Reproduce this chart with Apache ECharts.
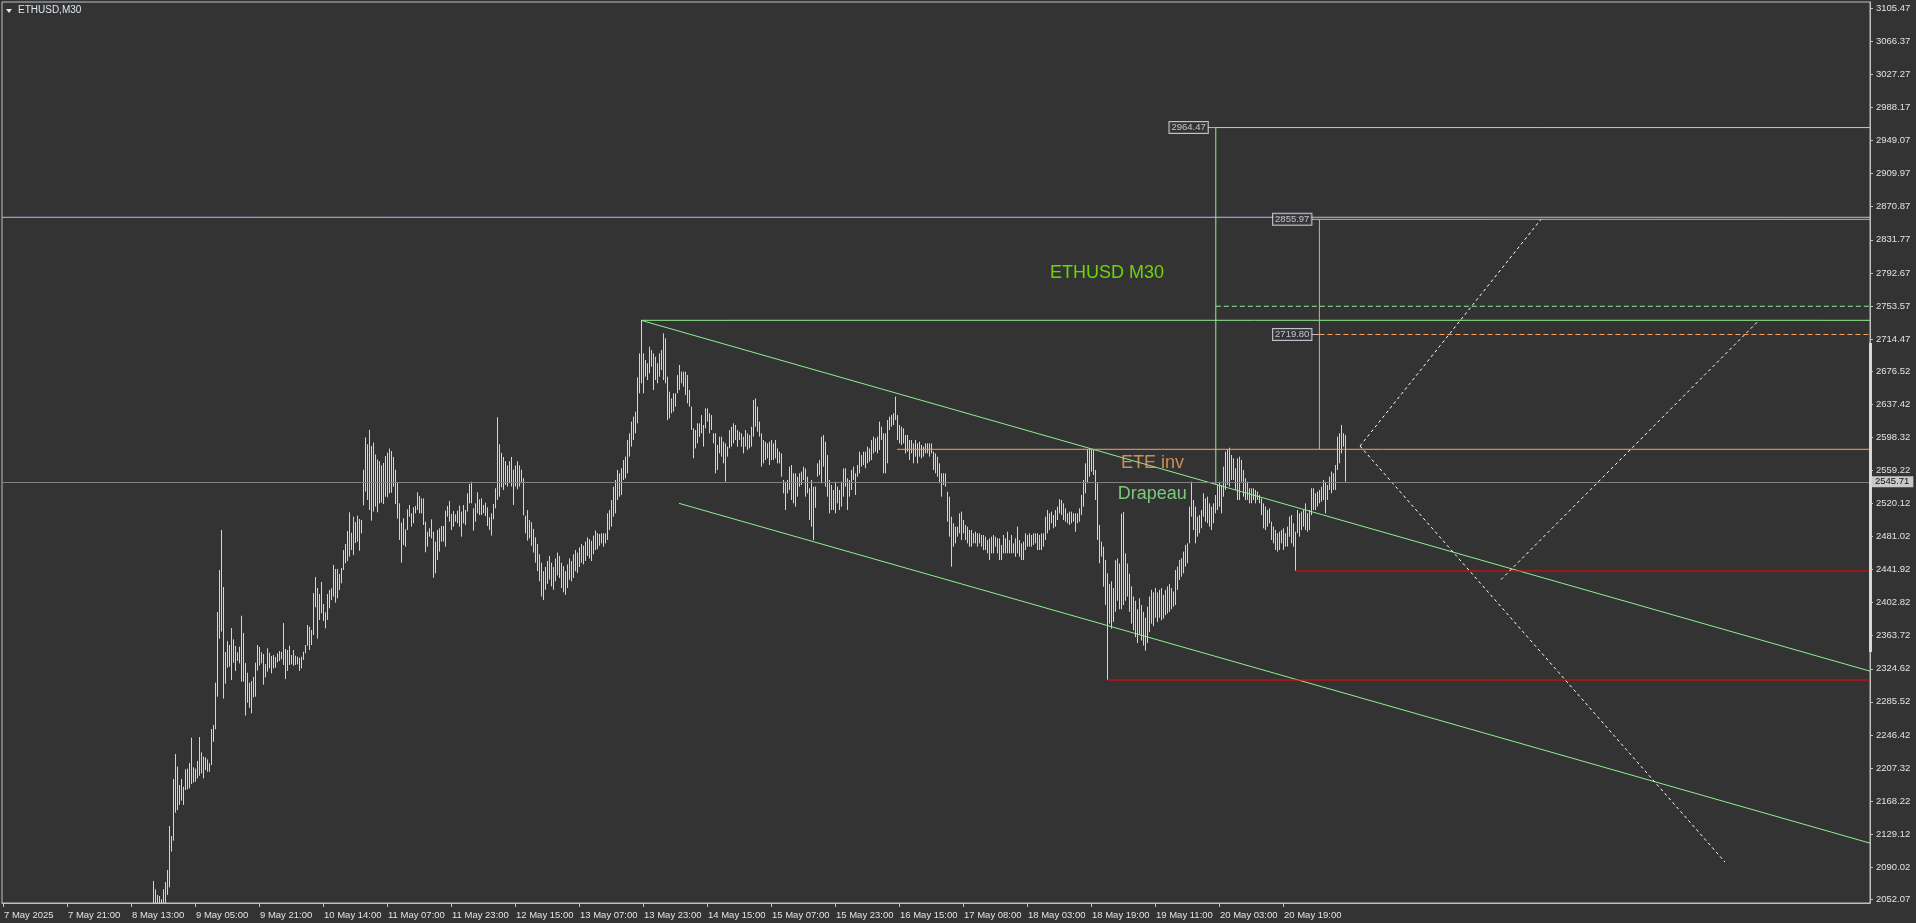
<!DOCTYPE html>
<html>
<head>
<meta charset="utf-8">
<script src="https://cdn.jsdelivr.net/npm/echarts@6/dist/echarts.min.js"></script>
<style>
html,body{margin:0;padding:0;background:#333333;overflow:hidden;}
#chart{width:1916px;height:923px;}
</style>
</head>
<body>
<div id="chart"></div>
<script>
// ---------- DATA ----------
const symbolTitle = 'ETHUSD,M30';
const firstBar = 75;            // index of first visible M30 bar
const barsPerLabel = 32;        // one time label every 32 bars
const timeLabels = ['7 May 2025','7 May 21:00','8 May 13:00','9 May 05:00','9 May 21:00','10 May 14:00','11 May 07:00','11 May 23:00','12 May 15:00','13 May 07:00','13 May 23:00','14 May 15:00','15 May 07:00','15 May 23:00','16 May 15:00','17 May 08:00','18 May 03:00','18 May 19:00','19 May 11:00','20 May 03:00','20 May 19:00'];
const priceTicks = [3105.47,3066.37,3027.27,2988.17,2949.07,2909.97,2870.87,2831.77,2792.67,2753.57,2714.47,2676.52,2637.42,2598.32,2559.22,2520.12,2481.02,2441.92,2402.82,2363.72,2324.62,2285.52,2246.42,2207.32,2168.22,2129.12,2090.02,2052.07];
const bidPrice = 2545.71;

const barHigh = [
2073.7,2063.8,2057.2,2056.0,2052.0,2063.8,2072.5,2086.7,2138.7,2126.9,
2194.3,2223.8,2208.9,2187.2,2194.3,2185.2,2205.7,2206.5,2213.2,2243.2,
2208.1,2206.5,2215.6,2243.9,2225.8,2220.7,2219.9,2217.5,2212.8,2253.4,
2258.1,2308.2,2391.7,2441.4,2488.7,2421.3,2344.4,2357.4,2352.7,2372.8,
2359.4,2351.5,2344.1,2350.7,2387.4,2366.9,2331.4,2320.0,2308.2,2310.2,
2314.9,2331.8,2352.7,2350.4,2344.1,2342.1,2330.3,2348.8,2343.7,2339.7,
2340.9,2338.5,2342.9,2345.6,2344.4,2378.7,2348.0,2346.8,2351.9,2340.9,
2346.8,2340.1,2338.9,2337.7,2338.9,2344.8,2352.7,2376.4,2374.4,2370.5,
2414.2,2433.1,2420.1,2413.0,2427.2,2401.2,2391.3,2413.0,2417.7,2419.7,
2447.3,2442.6,2442.6,2436.7,2443.8,2465.0,2472.1,2487.5,2509.6,2485.5,
2504.4,2498.1,2505.6,2501.7,2500.5,2560,2598,2590,2607,2588,
2592,2578,2572,2570,2565,2568,2576,2580,2585,2582,
2575,2560,2545,2520.2,2497.4,2502.5,2489.5,2513.1,2518.2,2508.4,
2515.5,2517.1,2533.2,2528.9,2526.1,2526.1,2498.5,2486.7,2490.7,2501.3,
2486.7,2474.9,2488.7,2490.7,2493.4,2493.4,2511.5,2517.1,2523.0,2507.6,
2511.1,2507.2,2511.5,2517.5,2510.4,2518.2,2512.3,2532.0,2543.1,2545.8,
2514.3,2520.2,2533.2,2524.9,2526.1,2518.2,2521.0,2515.5,2503.7,2508.4,
2519.4,2538.0,2622,2590,2580,2575,2570,2565,2570,2575,
2560,2565,2570,2565,2560,2550,2505.6,2512.3,2500.5,2498,
2490,2480,2472,2460,2450,2440,2445,2452,2458,2450,
2445,2455,2462,2458,2450,2446,2440,2448,2455,2452,
2460,2465,2462,2468,2472,2470,2475,2480,2478,2476,
2482,2488,2485,2484,2484.7,2484.7,2484.7,2508.4,2512.3,2524.1,
2539.9,2547.8,2559.6,2555.7,2561.6,2571.4,2575.4,2595.1,2603.0,2616.8,
2622.7,2628.6,2669.2,2697.5,2736.2,2697.5,2689.7,2685.7,2705.4,2701.5,
2697.5,2693.6,2685.7,2697.5,2701.5,2721.2,2715.3,2670.0,2652.2,2644.3,
2650.3,2650.3,2671.9,2683.8,2675.9,2675.9,2675.9,2671.9,2654.2,2634.5,
2608.9,2606.9,2614.8,2614.8,2624.6,2612.8,2632.5,2632.5,2626.6,2624.6,
2603.0,2603.0,2589.2,2599.0,2599.0,2593.1,2591.1,2587.2,2606.9,2610.8,
2614.8,2612.8,2606.9,2604.9,2603.0,2599.0,2606.9,2603.0,2601.0,2610.8,
2642.4,2644.3,2634.5,2616.8,2603.0,2595.1,2593.1,2591.1,2593.1,2595.1,
2591.1,2595.1,2585.2,2581.3,2579.3,2547.8,2545.8,2547.8,2563.6,2565.5,
2555.7,2555.7,2551.7,2555.7,2557.6,2563.6,2561.6,2551.7,2537.9,2547.8,
2539.9,2540,2567.5,2571.4,2599.0,2601.0,2593.1,2577.3,2547.8,2541.9,
2536.0,2545.8,2539.9,2536.0,2545.8,2561.6,2561.6,2549.8,2547.8,2559.6,
2563.6,2555.7,2565.5,2581.3,2577.3,2581.3,2581.3,2587.2,2585.2,2595.1,
2599.0,2597.0,2599.0,2616.8,2610.8,2603.0,2603.0,2618.7,2622.7,2624.6,
2626.6,2646.3,2624.6,2612.8,2610.8,2608.9,2601.0,2601.0,2595.1,2595.1,
2591.1,2595.1,2591.1,2593.1,2589.2,2587.2,2591.1,2591.1,2591.1,2591.1,
2581.3,2579.3,2575.4,2567.5,2555.7,2555.7,2555.7,2534.0,2528.1,2504.4,
2496.6,2492.6,2492.6,2508.4,2510.4,2500.5,2494.6,2492.6,2488.7,2488.7,
2484.7,2486.7,2484.7,2484.7,2482.8,2482.8,2480.8,2476.8,2478.8,2480.8,
2482.8,2480.8,2478.8,2478.8,2470.9,2482.8,2478.8,2486.7,2476.8,2482.8,
2472.9,2478.8,2492.6,2476.8,2472.9,2474.9,2484.7,2482.8,2484.7,2482.8,
2484.7,2484.7,2484.7,2482.8,2484.7,2484.7,2504.4,2512.3,2508.4,2510.4,
2506.4,2512.3,2516.3,2525.0,2524.2,2520.2,2514.3,2508.4,2510.4,2510.4,
2508.4,2508.4,2508.4,2514.3,2530.1,2547.8,2567.5,2583.3,2585.3,2583.3,
2583.3,2559.6,2543.9,2494.6,2474.9,2469.0,2453.2,2437.5,2425,2428,
2420,2453,2455,2449,2508,2510,2461,2449,2437,2422,
2410,2405,2395,2408,2400,2392,2385,2398,2410,2418,
2415,2420,2415,2418,2420,2412,2418,2422,2425,2420,
2416,2441.4,2445.4,2453.2,2455.2,2463.1,2471.0,2472.9,2516.3,2545.8,
2524.2,2516.3,2504.5,2506.4,2512.3,2532.1,2526.1,2528.1,2520.2,2516.3,
2520.2,2530.1,2541.9,2545.8,2541.9,2563.6,2581.3,2583.3,2586.0,2577.4,
2573.4,2561.6,2573.4,2575.4,2571.5,2559.6,2549.8,2545.8,2538.0,2538.0,
2538.0,2536.0,2534.0,2530.1,2526.1,2520.2,2516.3,2512.3,2514.3,2498.5,
2492.6,2488.7,2484.8,2486.7,2488.7,2490.7,2484.8,2492.6,2504.5,2506.4,
2496.6,2486.7,2512.3,2508.4,2510.4,2512.3,2520.2,2508.4,2512.3,2538.0,
2538.0,2532.1,2534.0,2536.0,2539.9,2547.8,2545.8,2541.9,2551.8,2557.7,
2555.7,2565.6,2599.0,2603.0,2612.8,2603.0,2601.0
];

const barLow = [
2035,2035,2035,2035,2035,2035,2035,2057.2,2066.2,2108.4,
2121.4,2154.5,2157.6,2163.6,2168.7,2163.6,2181.3,2182.1,2183.3,2188.4,
2190.0,2191.1,2195.1,2198.2,2201.0,2195.1,2204.9,2202.9,2202.9,2210.8,
2238.4,2253.0,2291.6,2360.2,2368.5,2289.3,2307.0,2325.9,2327.1,2311.3,
2331.8,2322.0,2333.8,2331.0,2309.4,2309.4,2269.2,2284.5,2278.6,2271.9,
2290.8,2291.6,2322.4,2328.3,2331.0,2305.8,2314.5,2321.2,2325.1,2319.2,
2325.1,2325.9,2332.2,2333.8,2335.8,2329.1,2312.5,2322.0,2329.1,2329.9,
2328.3,2329.1,2329.9,2322.0,2325.1,2335.0,2342.9,2351.9,2346.8,2352.7,
2364.5,2397.3,2360.2,2382.3,2390.2,2381.1,2372.4,2382.3,2396.1,2405.9,
2409.9,2402.8,2407.9,2417.7,2425.6,2441.4,2449.3,2452.0,2457.2,2465.0,
2459.1,2473.3,2474.9,2464.2,2484.7,2517.8,2534.0,2524.2,2512.3,2499.7,
2510.4,2516.3,2509.6,2520.2,2521.0,2519.4,2528.1,2527.3,2532.0,2532.8,
2539.9,2519.4,2502.1,2476.9,2450.1,2471.0,2469.0,2488.7,2504.4,2492.6,
2496.6,2508.4,2512.3,2508.4,2508.4,2494.6,2462.3,2469.0,2480.8,2478.8,
2432.3,2437.4,2453.2,2463.1,2474.9,2474.9,2469.0,2504.4,2498.5,2488.7,
2492.6,2498.5,2496.6,2492.6,2480.8,2496.6,2494.6,2510.4,2520.2,2520.2,
2487.9,2498.5,2508.4,2506.4,2506.4,2508.4,2505.2,2493.4,2488.7,2482.0,
2501.3,2514.3,2524.2,2528.1,2539.1,2536,2542,2540,2544,2540,
2518.2,2540,2536.8,2540,2544,2506.0,2484.7,2476.1,2478.8,2470,
2462,2450,2440,2428,2410,2406,2418,2425,2430,2422,
2418,2428,2435,2432,2420,2415,2412,2420,2430,2428,
2432,2440,2438,2445,2450,2448,2452,2458,2455,2452,
2460,2465,2466,2470,2472.9,2469.0,2472.9,2476.9,2488.7,2492.6,
2504.4,2508.4,2524.1,2528.1,2530.1,2547.8,2549.8,2555.7,2575.4,2587.2,
2595.1,2603.0,2614.8,2650.3,2662.1,2650.3,2670.0,2666.0,2673.9,2681.8,
2654.2,2666.0,2662.1,2670.0,2677.8,2666.0,2662.1,2618.7,2620.7,2626.6,
2628.6,2634.5,2650.3,2654.2,2662.1,2658.1,2648.3,2638.4,2634.5,2606.9,
2573.4,2585.2,2591.1,2599.0,2603.0,2587.2,2608.9,2616.8,2603.0,2606.9,
2591.1,2555.7,2559.6,2579.3,2575.4,2567.5,2545.8,2575.4,2585.2,2587.2,
2591.1,2595.1,2587.2,2595.1,2587.2,2579.3,2587.2,2583.3,2585.2,2587.2,
2599.0,2610.8,2604.9,2599.0,2563.6,2567.5,2571.4,2573.4,2565.5,2571.4,
2571.4,2573.4,2567.5,2567.5,2551.7,2532.0,2512.3,2532.0,2536.0,2524.1,
2520.2,2516.3,2528.1,2539.9,2541.9,2547.8,2528.1,2532.0,2500.5,2492.6,
2476.8,2515,2551.7,2553.7,2543.9,2563.6,2539.9,2528.1,2508.4,2512.3,
2512.3,2508.4,2520.2,2512.3,2516.3,2528.1,2539.9,2512.3,2528.1,2536.0,
2547.8,2530.1,2551.7,2555.7,2563.6,2565.5,2561.6,2567.5,2569.5,2571.4,
2579.3,2581.3,2579.3,2583.3,2595.1,2555.7,2555.7,2567.5,2606.9,2610.8,
2612.8,2618.7,2595.1,2591.1,2589.2,2591.1,2579.3,2581.3,2571.4,2579.3,
2567.5,2575.4,2567.5,2575.4,2573.4,2575.4,2579.3,2579.3,2575.4,2579.3,
2559.6,2555.7,2551.7,2543.9,2528.1,2541.9,2539.9,2498.5,2480.8,2445.3,
2469.0,2472.9,2480.8,2484.7,2476.8,2484.7,2476.8,2472.9,2469.0,2469.0,
2472.9,2472.9,2469.0,2472.9,2469.0,2465.0,2465.0,2461.1,2453.2,2461.1,
2461.1,2469.0,2461.1,2453.2,2453.2,2461.1,2461.1,2461.1,2461.1,2461.1,
2461.1,2457.1,2461.1,2457.1,2453.2,2453.2,2465.0,2469.0,2469.0,2469.0,
2471.0,2472.9,2465.0,2465.0,2465.0,2469.0,2476.8,2484.7,2488.7,2496.6,
2490.7,2492.6,2500.5,2508.4,2506.4,2500.5,2498.5,2496.6,2494.6,2496.6,
2498.5,2486.7,2496.6,2498.5,2506.4,2516.3,2532.1,2543.9,2551.8,2557.7,
2553.7,2524.2,2476.9,2449.3,2457.2,2421.7,2400,2311.3,2378,2372,
2380,2392,2405,2395,2395,2400,2405,2410,2392,2378,
2370,2362,2355,2365,2358,2352,2346,2355,2368,2378,
2375,2385,2380,2385,2382,2384,2388,2390,2392,2395,
2398,2400,2417.8,2429.6,2433.5,2437.5,2445.4,2449.3,2472.9,2504.5,
2488.7,2472.9,2480.8,2484.8,2490.7,2504.5,2498.5,2496.6,2492.6,2488.7,
2496.6,2508.4,2512.3,2516.3,2508.4,2528.1,2536.0,2541.9,2539.9,2547.8,
2547.8,2536.0,2524.2,2524.2,2545.8,2528.1,2524.2,2524.2,2520.2,2520.2,
2524.2,2520.2,2524.2,2520.2,2506.4,2490.7,2488.7,2492.6,2496.6,2476.9,
2472.9,2465.1,2463.1,2465.1,2472.9,2465.1,2469.0,2469.0,2480.8,2472.9,
2469.0,2440.2,2484.8,2480.8,2488.7,2492.6,2488.7,2486.7,2488.7,2506.4,
2512.3,2512.3,2516.3,2520.2,2522.2,2524.2,2508.4,2524.2,2536.0,2532.1,
2536.0,2536.0,2559.6,2567.5,2579.3,2587.2,2545.8
];

// ---------- ANNOTATIONS (bar index, price) ----------
const channelUpper = [[319, 2736.6], [606.4, 2542.6]];   // ray to the right
const channelLower = [[338, 2520.2], [405, 2475.0]];     // parallel ray
const flagTopLevel = [319, 2736.6];
const targetLevel = [606.4, 2964.47];
const targetDashLevel = [606.4, 2753.2];
const necklineLevel = [447, 2584.1];
const eteTargetLevel = [658.2, 2855.97];
const eteDashLevel = [658.2, 2719.80];
const blueLevel = 2858.4;
const redLevelLow = [552, 2311.3];
const redLevelHigh = [646, 2440.2];
const pathUp1 = [[678.5, 2588.0], [769, 2855.97]];
const pathDown = [[678.5, 2588.0], [861, 2096.1]];
const pathUp2 = [[749, 2430.0], [878, 2736.6]];
const priceTags = [[606.4, 2964.47], [658.2, 2855.97], [658.2, 2719.80]];
const textNotes = [
  {pos: [523.5, 2792.5], text: 'ETHUSD M30', color: '#7cfc00'},
  {pos: [559.0, 2567.9], text: 'ETE inv', color: '#f4a460'},
  {pos: [557.4, 2531.2], text: 'Drapeau', color: '#90ee90'}
];

// ---------- CHART ----------
const xMin = -0.5, xMax = 933.5;
const yMin = 2047.69, yMax = 3112.92;
const FONT = 'Liberation Sans, Arial, sans-serif';

function ray(p1, p2) {
  const s = (p2[1] - p1[1]) / (p2[0] - p1[0]);
  return [p1, [xMax, p1[1] + s * (xMax - p1[0])]];
}
function hray(p) { return [[p[0], p[1]], [xMax, p[1]]]; }
function fullLine(y) { return [[xMin, y], [xMax, y]]; }
function lineSeries(data, color, type, z) {
  return {type: 'line', data: data, symbol: 'none', showSymbol: false, clip: true, silent: true,
    animation: false, z: z || 4, lineStyle: {color: color, width: 1, type: type || 'solid'}};
}

const GREEN = '#90ee90', ORANGE = '#f4a460', RED = '#ff0000', BLUE = '#a0c8f0', WHITE = '#ffffff';

const barData = barHigh.map((h, k) => [firstBar + k, h, barLow[k]]);

const series = [
  {
    type: 'custom', name: 'bars', data: barData, clip: true, z: 3, animation: false, silent: true,
    encode: {x: 0, y: [1, 2]},
    renderItem: function (params, api) {
      const i = api.value(0);
      const top = api.coord([i, api.value(1)]);
      const bot = api.coord([i, api.value(2)]);
      const x = Math.round(top[0]) + 0.5;
      return {type: 'line', shape: {x1: x, y1: top[1], x2: x, y2: bot[1]},
        style: {stroke: '#d4d4d4', lineWidth: 1}};
    },
    markLine: {
      symbol: 'none', silent: true, animation: false,
      lineStyle: {color: '#808080', width: 1, type: 'solid'},
      label: {position: 'end', distance: 0, formatter: bidPrice.toFixed(2),
        backgroundColor: '#c8c8c8', color: '#101010', fontSize: 9.5, fontFamily: FONT,
        padding: [1, 4, 0, 5]},
      data: [{yAxis: bidPrice}]
    }
  },
  lineSeries(fullLine(blueLevel), BLUE),
  lineSeries(ray(channelUpper[0], channelUpper[1]), GREEN),
  lineSeries(ray(channelLower[0], channelLower[1]), GREEN),
  lineSeries(hray(flagTopLevel), GREEN),
  lineSeries(hray(targetLevel), GREEN),
  lineSeries([targetLevel, channelUpper[1]], GREEN),
  lineSeries(hray(targetDashLevel), GREEN, [5, 3]),
  lineSeries(hray(necklineLevel), ORANGE),
  lineSeries(hray(eteTargetLevel), ORANGE),
  lineSeries([eteTargetLevel, [eteTargetLevel[0], necklineLevel[1]]], ORANGE),
  lineSeries(hray(eteDashLevel), ORANGE, [5, 3]),
  lineSeries(hray(redLevelLow), RED),
  lineSeries(hray(redLevelHigh), RED),
  lineSeries(pathUp1, WHITE, [3, 3]),
  lineSeries(pathDown, WHITE, [3, 3]),
  lineSeries(pathUp2, WHITE, [3, 3]),
  {
    type: 'scatter', name: 'tags', z: 6, silent: true, animation: false,
    data: priceTags,
    symbol: 'rect', symbolSize: [8, 1], symbolOffset: [-4, 0],
    itemStyle: {color: '#e8d6e8'},
    label: {show: true, position: 'left', distance: 0,
      formatter: p => p.value[1].toFixed(2),
      color: '#dfe6f2', fontSize: 9.5, fontFamily: FONT, lineHeight: 10,
      borderColor: '#e6e6f6', borderWidth: 1, padding: [1, 2, 0, 2], backgroundColor: '#333333'}
  },
  {
    type: 'scatter', name: 'notes', z: 7, silent: true, animation: false,
    symbolSize: 0,
    data: textNotes.map(n => ({value: n.pos,
      label: {show: true, position: 'right', distance: 0, formatter: n.text, color: n.color,
        fontSize: 18, fontFamily: FONT}}))
  }
];

const chart = echarts.init(document.getElementById('chart'), null, {renderer: 'canvas'});
chart.setOption({
  animation: false,
  backgroundColor: '#333333',
  textStyle: {fontFamily: FONT},
  grid: {left: 2, top: 2, right: 46, bottom: 20, show: true, borderColor: '#c0c0c0', borderWidth: 1},
  xAxis: {
    type: 'value', min: xMin, max: xMax,
    axisLine: {show: true, onZero: false, lineStyle: {color: '#c0c0c0'}},
    splitLine: {show: false},
    axisTick: {show: true, length: 4, customValues: timeLabels.map((t, k) => k * barsPerLabel),
      lineStyle: {color: '#c0c0c0'}},
    axisLabel: {show: true, customValues: timeLabels.map((t, k) => k * barsPerLabel),
      formatter: v => timeLabels[Math.round(v / barsPerLabel)] || '',
      align: 'left', margin: 7, padding: [0, 0, 0, 1],
      color: '#e2e2e2', fontSize: 9.5, fontFamily: FONT}
  },
  yAxis: {
    type: 'value', position: 'right', min: yMin, max: yMax,
    axisLine: {show: true, onZero: false, lineStyle: {color: '#c0c0c0'}},
    splitLine: {show: false},
    axisTick: {show: true, length: 3, customValues: priceTicks, lineStyle: {color: '#c0c0c0'}},
    axisLabel: {show: true, customValues: priceTicks, formatter: v => v.toFixed(2),
      margin: 6, color: '#e2e2e2', fontSize: 9.5, fontFamily: FONT}
  },
  graphic: [
    {type: 'polygon', shape: {points: [[6, 9], [12, 9], [9, 13]]}, style: {fill: '#e8e8e8'}, z: 10},
    {type: 'text', left: 18, top: 5, style: {text: symbolTitle, fill: '#dfe6f2', font: '10px ' + FONT}, z: 10},
    {type: 'rect', shape: {x: 1869, y: 343, width: 3, height: 309}, style: {fill: '#d8d8d8'}, z: 10}
  ],
  series: series
});
</script>
</body>
</html>
